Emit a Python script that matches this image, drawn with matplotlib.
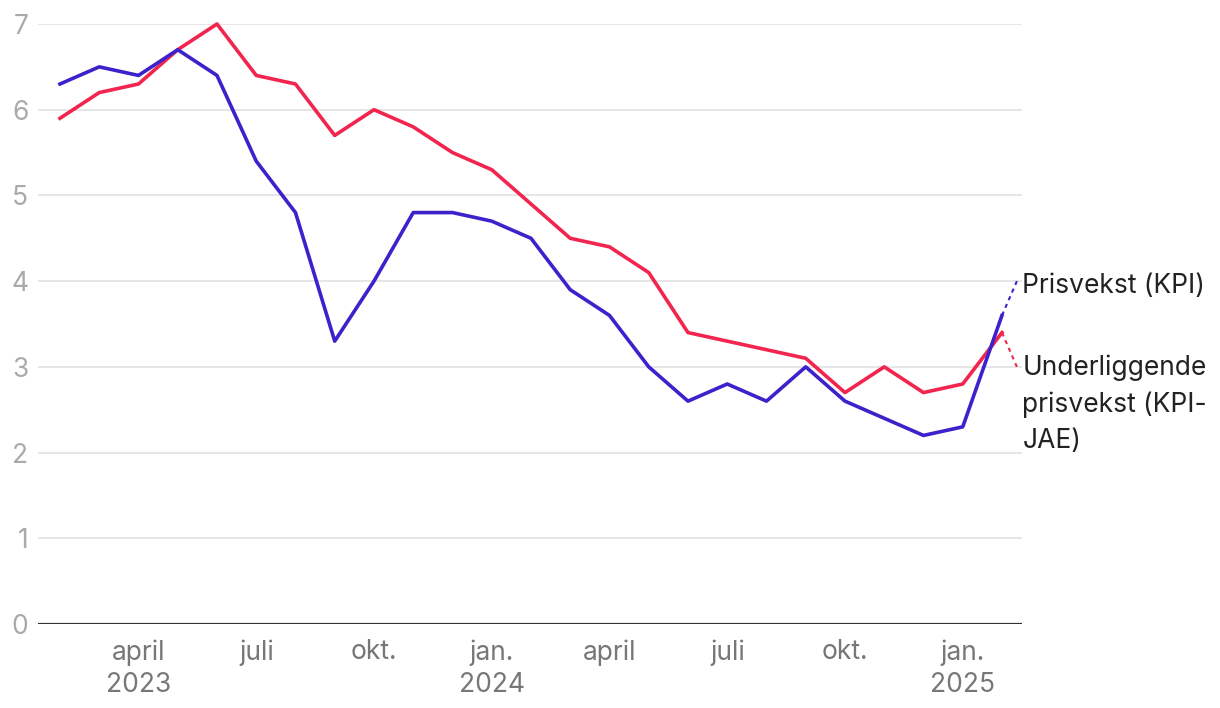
import matplotlib.pyplot as plt
import numpy as np

plt.rcParams['font.family'] = ['Inter', 'DejaVu Sans']

# monthly, Feb 2023 - Feb 2025
months = ['feb23', 'mar23', 'apr23', 'mai23', 'jun23', 'jul23', 'aug23', 'sep23',
          'okt23', 'nov23', 'des23', 'jan24', 'feb24', 'mar24', 'apr24', 'mai24',
          'jun24', 'jul24', 'aug24', 'sep24', 'okt24', 'nov24', 'des24', 'jan25', 'feb25']
kpi = [6.3, 6.5, 6.4, 6.7, 6.4, 5.4, 4.8, 3.3, 4.0, 4.8, 4.8, 4.7, 4.5, 3.9,
       3.6, 3.0, 2.6, 2.8, 2.6, 3.0, 2.6, 2.4, 2.2, 2.3, 3.6]
kpi_jae = [5.9, 6.2, 6.3, 6.7, 7.0, 6.4, 6.3, 5.7, 6.0, 5.8, 5.5, 5.3, 4.9, 4.5,
           4.4, 4.1, 3.4, 3.3, 3.2, 3.1, 2.7, 3.0, 2.7, 2.8, 3.4]
tick_idx = [2, 5, 8, 11, 14, 17, 20, 23]
tick_labels = ['april\n2023', 'juli', 'okt.', 'jan.\n2024', 'april', 'juli', 'okt.', 'jan.\n2025']
yticks = [0, 1, 2, 3, 4, 5, 6, 7]

blue = '#3d22cc'
red = '#f2254f'

fig = plt.figure(figsize=(12.2, 7.08), dpi=100)
ax = fig.add_axes([38 / 1220, 1 - 624 / 708, (1022 - 38) / 1220, 600 / 708])

x = np.arange(len(months))
ax.plot(x, kpi_jae, color=red, lw=2.6, clip_on=False, zorder=3)
ax.plot(x, kpi, color=blue, lw=2.6, clip_on=False, zorder=4)

# dotted connectors to the labels
xe = len(months) - 1
ax.plot([xe, xe + 0.38], [kpi[-1], 4.0], color=blue, lw=1.5, ls=(0, (2, 2)), clip_on=False)
ax.plot([xe, xe + 0.38], [kpi_jae[-1], 3.0], color=red, lw=1.5, ls=(0, (2, 2)), clip_on=False)

ax.text(xe + 0.52, 3.94, 'Prisvekst (KPI)', fontsize=19, color='#222222',
        ha='left', va='center')
ax.text(xe + 0.52, 3.14, 'Underliggende\nprisvekst (KPI-\nJAE)', fontsize=19,
        color='#222222', ha='left', va='top', linespacing=1.5)

ax.set_xlim(-0.56, xe + 0.51)
ax.set_ylim(0, 7)

for s in ['top', 'right', 'left', 'bottom']:
    ax.spines[s].set_visible(False)
ax.axhline(0, color='#333333', lw=1.6, zorder=5)
for v in yticks[1:]:
    ax.axhline(v, color='#e2e2e2', lw=1.2, zorder=1)

ax.set_yticks(yticks)
ax.set_yticklabels([str(v) for v in yticks])
ax.tick_params(axis='y', length=0, pad=7, labelsize=19, labelcolor='#aaaaaa')
ax.set_xticks(tick_idx)
ax.set_xticklabels(tick_labels, linespacing=1.3)
ax.tick_params(axis='x', length=0, pad=11, labelsize=19, labelcolor='#777777')

fig.savefig('out.png', dpi=100)
